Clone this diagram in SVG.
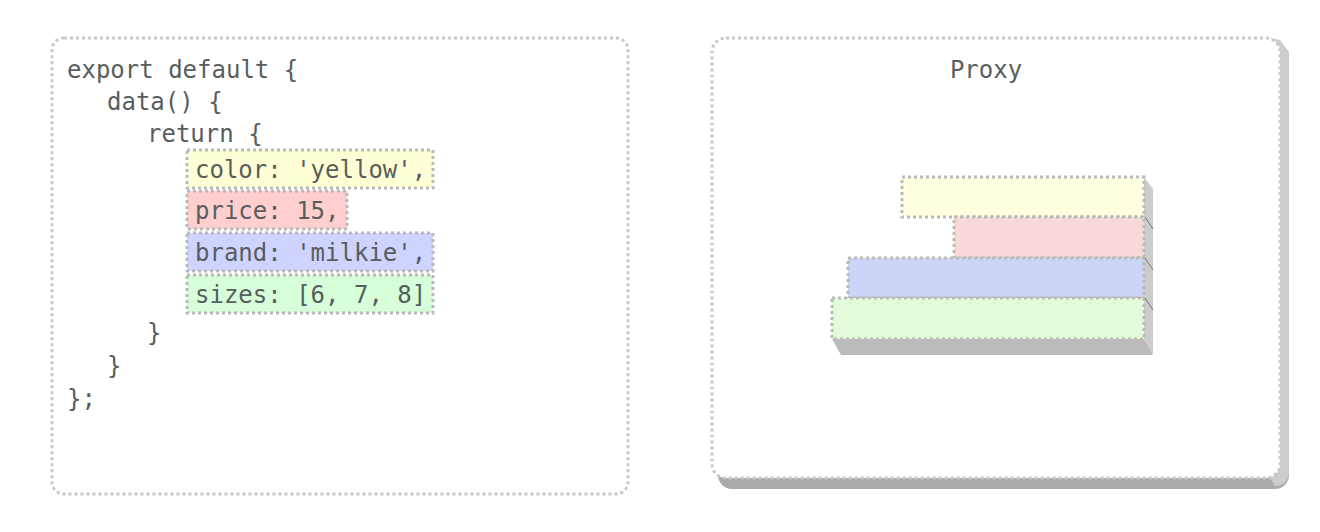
<svg xmlns="http://www.w3.org/2000/svg" width="1320" height="532" viewBox="0 0 1320 532">
<style>
.panel{fill:#fff;stroke:#c8c8c8;stroke-width:3;stroke-dasharray:3 3}
.hl{stroke:#bababa;stroke-width:3;stroke-dasharray:3 3}
.code{font-family:"DejaVu Sans Mono","Liberation Mono",monospace;font-size:24px;fill:#585d5d}
.edge{stroke:#777;stroke-width:1;fill:none}
</style>
<g id="code-panel">
<rect class="panel" x="52" y="38" width="576" height="456" rx="12"/>
<text class="code" x="67" y="78">export default {</text>
<text class="code" x="107" y="110">data() {</text>
<text class="code" x="147" y="142">return {</text>
<text class="code" x="147" y="341">}</text>
<text class="code" x="107" y="374">}</text>
<text class="code" x="67" y="407">};</text>
</g>
<g id="field-color">
<rect class="hl" x="187" y="150" width="246" height="38" fill="#ffffd6"/>
<text class="code" x="195" y="178">color: 'yellow',</text>
</g>
<g id="field-price">
<rect class="hl" x="187" y="191" width="160" height="38" fill="#ffcfcf"/>
<text class="code" x="195" y="219">price: 15,</text>
</g>
<g id="field-brand">
<rect class="hl" x="187" y="233" width="246" height="38" fill="#cfd3ff"/>
<text class="code" x="195" y="261">brand: 'milkie',</text>
</g>
<g id="field-sizes">
<rect class="hl" x="187" y="275" width="246" height="38" fill="#d6ffd9"/>
<text class="code" x="195" y="303">sizes: [6, 7, 8]</text>
</g>
<g id="proxy-panel">
<rect x="718" y="48" width="571" height="441" rx="14" fill="#aaaaaa"/>
<path d="M1270 38 L1280 40 L1289 52 L1289 470 Q1289 486 1275 486 L1270 478 Z" fill="#cccccc"/>
<rect class="panel" x="712" y="38" width="568" height="440" rx="14"/>
<text class="code" x="986" y="78" text-anchor="middle">Proxy</text>
</g>
<g id="proxy-stack">
<polygon points="1144,177 1153,189 1153,355 1144,339" fill="#cccccc"/>
<polygon points="832,339 1144,339 1153,355 841,355" fill="#bbbbbb"/>
</g>
<g id="proxy-color"><rect class="hl" x="902" y="177" width="242" height="40" fill="#ffffe0"/></g>
<g id="proxy-price"><rect class="hl" x="954" y="217" width="190" height="41" fill="#f8d8d8"/></g>
<g id="proxy-brand"><rect class="hl" x="848" y="258" width="296" height="40" fill="#ccd4f8"/></g>
<g id="proxy-sizes"><rect class="hl" x="832" y="298" width="312" height="41" fill="#e2fcd9"/></g>
<g id="connectors">
<line class="edge" x1="1145" y1="217" x2="1153" y2="229"/>
<line class="edge" x1="1145" y1="258" x2="1153" y2="270"/>
<line class="edge" x1="1145" y1="298" x2="1153" y2="310"/>
</g>
</svg>
